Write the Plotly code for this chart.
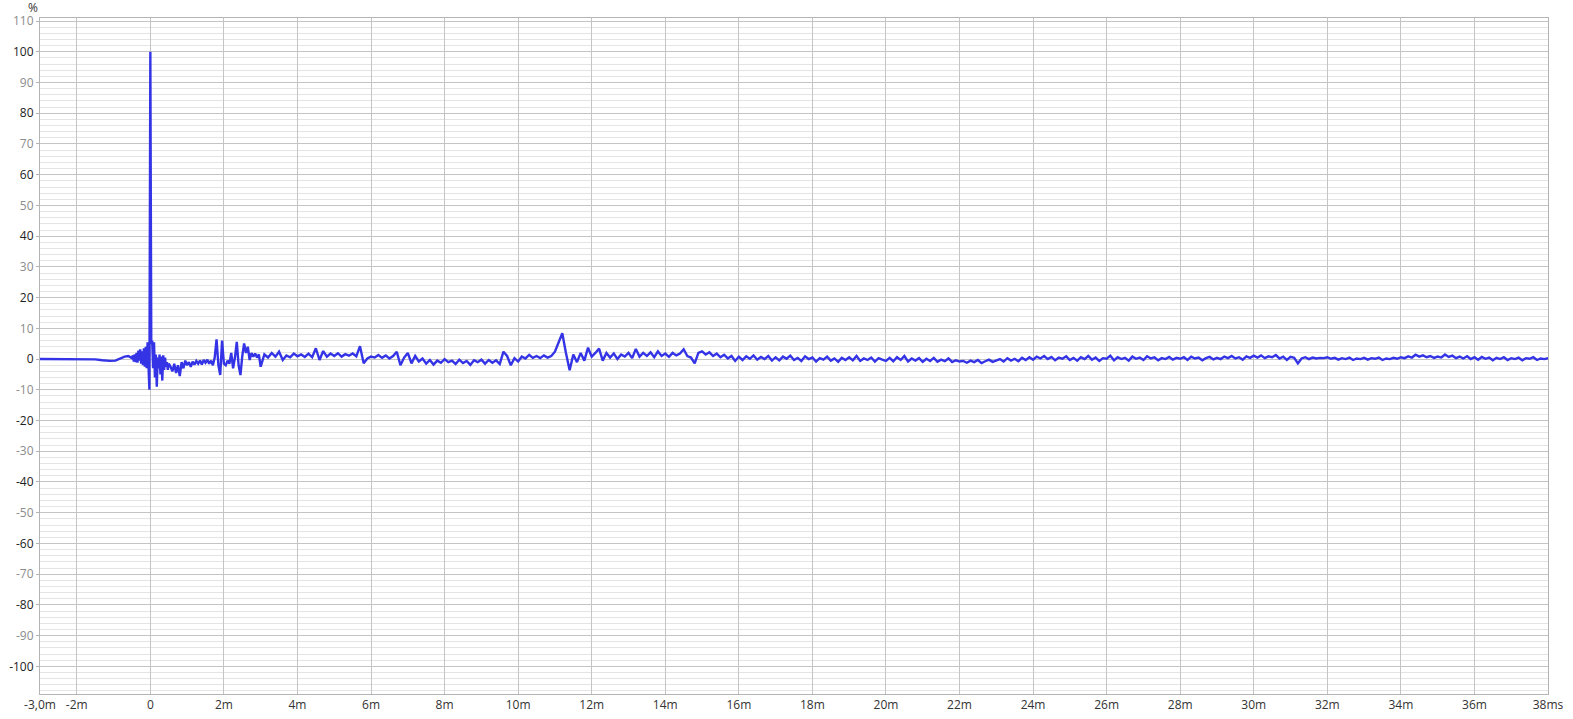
import numpy as np
import plotly.graph_objects as go

# ---------------- data (time in ms, amplitude in %) ----------------
t_pre = [-3.0, -2.0, -1.5, -1.3, -1.1, -0.95, -0.8, -0.7, -0.6, -0.52]
v_pre = [0.0, 0.0, -0.1, -0.4, -0.6, -0.5, 0.2, 0.8, 1.0, 0.3]

# around the main impulse, sampled every 0.025 ms from -0.5 to 0.5
v_impulse = [0.3, 1.2, -0.8, 1.5, -1.0, 2.0, -1.2, 2.8, -0.5, 3.2,
             -1.5, 2.5, -2.0, 3.5, -2.5, 4.0, -3.0, 5.5, -4.0, -10.0,
             100.0,
             5.0, 6.0, -3.0, 5.5, -6.0, 1.5, -9.0, 0.5, -3.0, 1.5,
             -5.0, 0.8, -7.0, 1.2, -3.5, 0.5, -2.5, -1.0, -3.5, -1.5]

# early reflections, sampled every 0.05 ms from 0.55 to 3.0
v_early = [-2.5, -4.0, -1.5, -4.5, -2.0, -5.5, -1.0, -3.0, -0.5, -2.0,
           -1.0, -2.5, -0.8, -1.8, -0.6, -1.5, -0.5, -1.8, -0.3, -1.2,
           -0.2, -1.5, -0.5, -2.0, 0.5, 6.4, -2.0, -5.2, 6.0, -1.5,
           -2.0, -0.5, -1.5, 2.0, -3.0, 0.5, 5.6, -2.0, -5.2, 1.0,
           5.1, 2.0, 4.0, -0.3, 2.0, 0.8, 1.8, 0.5, 1.5, -2.5]

# sampled every 0.1 ms from 3.1 to 15.0
v_mid = [1.5, 0.5, 2.0, 0.8, 2.4, -0.3, 1.2, 0.6, 1.8, 0.9,
         1.5, 0.7, 1.8, 0.6, 3.5, -0.3, 2.6, 0.8, 1.8, 1.0,
         1.9, 0.8, 1.6, 1.1, 1.8, 0.9, 4.2, -1.4, 0.2, 0.8,
         0.5, 1.3, 0.4, 1.2, 0.2, 1.0, 2.4, -2.0, 0.5, 2.0,
         -1.4, 1.0, -0.8, 0.2, -1.5, -0.3, -1.8, -0.5, -1.2, 0.0,
         -1.0, -0.5, -1.6, -0.2, -1.3, -0.6, -1.9, -0.4, -1.0, -0.2,
         -1.5, -0.3, -1.2, -0.4, -1.6, 2.4, 1.0, -2.0, 0.3, -0.8,
         0.8, 0.2, 1.4, 0.4, 1.0, 0.3, 1.2, 0.5, 1.0, 2.4,
         5.5, 8.4, 2.0, -3.6, 1.5, -1.0, 2.0, -0.5, 3.7, 0.8,
         2.0, 3.4, -0.5, 2.0, 0.5, 1.8, 0.0, 1.5, 0.8, 2.0,
         0.3, 3.3, 0.8, 2.0, 1.0, 2.2, 0.6, 2.5, 1.0, 1.8,
         0.7, 2.0, 1.2, 1.8, 3.2, 1.0, 0.5, -1.4, 2.0, 2.5]

# tail, sampled every 0.1 ms from 15.1 to 38.0
v_tail = [1.5, 2.2, 1.0, 1.8, 0.6, 1.4, 0.2, 1.0, -0.6, 0.8,
          -0.3, 0.9, 0.1, 1.2, -0.2, 0.7, 0.0, 1.0, -0.5, 0.6,
          -0.4, 0.8, 0.1, 1.1, -0.3, 0.4, -0.6, 0.9, 0.0, 0.5,
          -0.8, 0.3, -0.2, 0.8, -0.5, 0.2, -0.9, 0.4, -0.3, 0.6,
          -0.4, 1.0, -0.6, 0.2, -0.3, 0.5, -0.8, 0.3, -0.2, -0.6,
          0.4, -0.7, 0.6, -0.3, 1.0, -0.8, 0.2, -0.5, 0.3, -0.9,
          0.1, -0.6, 0.4, -0.9, -0.2, -0.7, 0.2, -1.0, -0.4, -0.8,
          -0.6, -1.2, -0.5, -1.0, -0.3, -1.3, -0.7, -0.2, -0.9, -0.4,
          0.0, -0.8, 0.3, -0.5, 0.1, -0.7, 0.4, -0.3, 0.6, -0.2,
          0.8, 0.2, 1.0, 0.0, 0.7, -0.4, 0.5, 0.1, 0.9, -0.3,
          0.4, -0.5, 0.6, 0.0, 1.0, -0.2, 0.5, -0.6, 0.3, 0.1,
          1.1, -0.4, 0.6, 0.0, 0.4, -0.5, 0.8, 0.1, 0.5, -0.3,
          0.9, 0.2, 0.6, -0.4, 0.3, 0.0, 0.7, -0.2, 0.4, 0.1,
          0.6, -0.3, 0.8, 0.2, 0.5, -0.4, 0.3, 0.7, -0.1, 0.4,
          0.0, 0.8, 0.3, 1.0, 0.2, 0.6, -0.2, 0.9, 0.4, 1.1,
          0.5, 1.2, 0.3, 0.9, 0.6, 1.3, 0.2, 0.8, -0.3, 0.7,
          0.4, -1.4, 0.2, 0.6, 0.0, 0.5, 0.2, 0.4, 0.3, 0.6,
          0.1, 0.4, -0.2, 0.3, 0.0, 0.5, -0.3, 0.2, 0.0, 0.4,
          -0.2, 0.3, 0.1, 0.5, -0.3, 0.2, 0.0, 0.4, 0.1, 0.6,
          0.3, 0.9, 0.5, 1.4, 0.8, 1.2, 0.6, 1.0, 0.4, 0.8,
          0.5, 1.5, 0.7, 1.1, 0.3, 0.8, 0.2, 0.9, 0.0, 0.6,
          -0.2, 0.7, 0.1, 0.5, -0.4, 0.4, 0.0, 0.6, -0.3, 0.3,
          0.0, 0.5, -0.4, 0.3, 0.1, 0.6, -0.3, 0.2, 0.0, 0.3]

# sample grids (sampling times of each segment)
t_impulse = np.round(np.arange(41) * 0.025 - 0.5, 4)
t_early = np.round(0.55 + np.arange(len(v_early)) * 0.05, 4)
t_mid = np.round(3.1 + np.arange(len(v_mid)) * 0.1, 4)
t_tail = np.round(15.1 + np.arange(len(v_tail)) * 0.1, 4)

x_tick_vals = [-3, -2, 0, 2, 4, 6, 8, 10, 12, 14, 16, 18, 20, 22, 24, 26, 28,
               30, 32, 34, 36, 38]
x_tick_text = ["-3,0m", "-2m", "0", "2m", "4m", "6m", "8m", "10m", "12m", "14m",
               "16m", "18m", "20m", "22m", "24m", "26m", "28m", "30m", "32m",
               "34m", "36m", "38ms"]
y_tick_vals = list(range(-100, 111, 10))

t_all = np.concatenate([t_pre, t_impulse, t_early, t_mid, t_tail])
v_all = np.concatenate([v_pre, v_impulse, v_early, v_mid, v_tail])

y_tick_text = []
for v in y_tick_vals:
    col = "#222222" if v % 20 == 0 else "#8c8c8c"
    y_tick_text.append(f'<span style="color:{col}">{v}</span>')

fig = go.Figure()
fig.add_trace(go.Scatter(
    x=t_all, y=v_all, mode="lines",
    line=dict(color="#3434e6", width=2.4),
    hoverinfo="x+y", showlegend=False,
))

font_family = "Open Sans, Noto Sans, sans-serif"

fig.update_layout(
    width=1573, height=719,
    margin=dict(l=40, r=25, t=18, b=25, autoexpand=False),
    paper_bgcolor="white", plot_bgcolor="white",
    font=dict(family=font_family, size=12, color="#333333"),
    xaxis=dict(
        range=[-3, 38], tickmode="array", tickvals=x_tick_vals, ticktext=x_tick_text,
        showgrid=True, gridcolor="#c4c4c4", gridwidth=1, automargin=False,
        showline=True, linecolor="#b4b4b4", linewidth=1, mirror=True,
        zeroline=False, ticks="", tickfont=dict(size=12, color="#333333"),
    ),
    yaxis=dict(
        range=[-109, 111], tickmode="array", tickvals=y_tick_vals, ticktext=y_tick_text,
        showgrid=True, gridcolor="#c4c4c4", gridwidth=1, automargin=False,
        showline=True, linecolor="#b4b4b4", linewidth=1, mirror=True,
        zeroline=False, ticks="outside", ticklen=3, tickcolor="#b4b4b4",
        tickfont=dict(size=12),
        minor=dict(tickmode="linear", tick0=0, dtick=2, showgrid=True,
                   gridcolor="#e4e4e4", gridwidth=1, ticks=""),
    ),
    annotations=[dict(
        text="%", x=0, y=1, xref="paper", yref="paper",
        xanchor="center", yanchor="bottom", xshift=-7, yshift=0,
        showarrow=False, font=dict(size=12, color="#333333"),
    )],
)

fig.write_html("out.html",
               config={"displayModeBar": False},
               post_script="document.body.style.margin='0';"
                           "document.body.style.overflow='hidden';")
